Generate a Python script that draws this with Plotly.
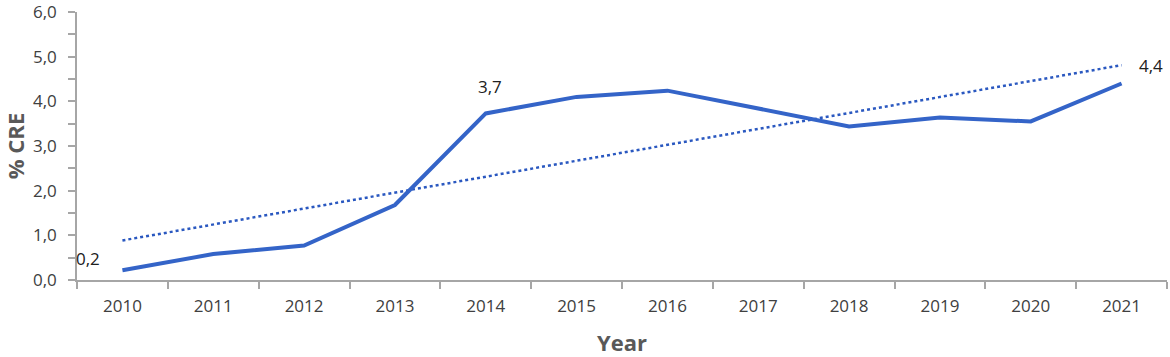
import numpy as np
import plotly.graph_objects as go

years = ["2010", "2011", "2012", "2013", "2014", "2015", "2016", "2017", "2018", "2019", "2020", "2021"]
cre = [0.22, 0.58, 0.77, 1.68, 3.73, 4.1, 4.24, 3.83, 3.44, 3.64, 3.55, 4.4]
label_years = ["2010", "2014", "2021"]
label_text = ["0,2", "3,7", "4,4"]

idx = np.arange(len(years))
slope, intercept = np.polyfit(idx, cre, 1)
trend = (slope * idx + intercept).tolist()

line_color = "#3464C8"
text_color = "#404040"
axis_color = "#A6A6A6"
FONT = "Open Sans, Liberation Sans, sans-serif"

fig = go.Figure()
fig.add_trace(go.Scatter(x=idx.tolist(), y=trend, mode="lines",
                         line=dict(color="#2A58C0", width=2.5, dash="dot"),
                         hoverinfo="skip", showlegend=False))
fig.add_trace(go.Scatter(x=idx.tolist(), y=cre, mode="lines",
                         line=dict(color=line_color, width=4),
                         showlegend=False))

offsets = {"2010": (-34, 12), "2014": (4, 27), "2021": (29, 18)}
for yr, txt in zip(label_years, label_text):
    i = years.index(yr)
    dx, dy = offsets[yr]
    fig.add_annotation(x=i, y=cre[i], text=txt, showarrow=False,
                       xref="x", yref="y", xshift=dx, yshift=dy,
                       font=dict(family=FONT, size=17, color="#202020"))

fig.update_layout(
    width=1170, height=357,
    margin=dict(l=77, r=3, t=12, b=77),
    paper_bgcolor="white", plot_bgcolor="white",
    separators=",.",
    font=dict(family=FONT, size=17, color=text_color),
)
fig.update_xaxes(
    range=[-0.5, 11.5], tickmode="array", tickvals=idx.tolist(), ticktext=years,
    automargin=False,
    showline=True, linecolor=axis_color, linewidth=1.5,
    ticks="", showgrid=False, zeroline=False,
    minor=dict(tickmode="array", tickvals=(idx - 0.5).tolist() + [11.5], ticks="outside",
               ticklen=7, tickcolor=axis_color, tickwidth=1.5, showgrid=False),
    tickfont=dict(size=17, color=text_color),
    ticklabelstandoff=10,
    title=dict(text="<b>Year</b>", font=dict(family=FONT, size=22, color="#595959"), standoff=25),
)
fig.update_yaxes(
    range=[0, 6.001], tickmode="array", tickvals=[0, 1, 2, 3, 4, 5, 6], tickformat=".1f",
    automargin=False, ticklabeloverflow="allow",
    showline=True, linecolor=axis_color, linewidth=1.5,
    ticks="outside", ticklen=7, tickcolor=axis_color, tickwidth=1.5,
    minor=dict(tickmode="array", tickvals=[0.5, 1.5, 2.5, 3.5, 4.5, 5.5], ticks="outside",
               ticklen=7, tickcolor=axis_color, tickwidth=1.5, showgrid=False),
    showgrid=False, zeroline=False,
    tickfont=dict(size=17, color=text_color),
    ticklabelstandoff=8,
    title=dict(text="<b>% CRE</b>", font=dict(family=FONT, size=22, color="#595959"), standoff=24),
)
fig.write_html("out.html", config={"displayModeBar": False},
               post_script="document.body.style.margin='0';document.body.style.overflow='hidden';")
